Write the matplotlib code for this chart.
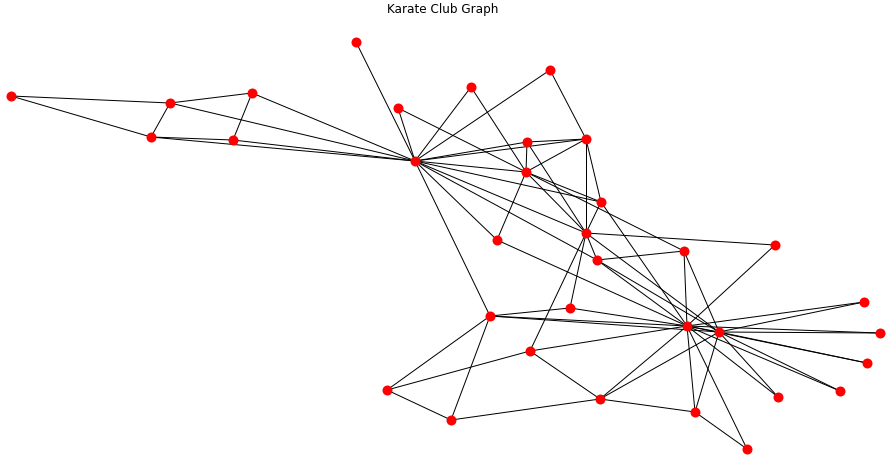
import matplotlib
matplotlib.use("Agg")
import matplotlib.pyplot as plt
from matplotlib.collections import LineCollection

# Node positions (pixel coordinates, y downward)
node_x = [415, 526, 586, 586, 233, 170, 151, 527, 597, 775,
          252, 356, 550, 601, 864, 880, 11, 398, 867, 497,
          840, 471, 778, 600, 387, 451, 747, 530, 570, 695,
          684, 490, 719, 687]
node_y = [161, 172, 233, 139, 140, 103, 137, 142, 260, 245,
          93, 42, 70, 202, 302, 333, 96, 108, 363, 240,
          391, 87, 397, 399, 390, 420, 449, 351, 308, 412,
          251, 316, 332, 326]

# Zachary karate club edges
edges = [(0, 1), (0, 2), (0, 3), (0, 4), (0, 5), (0, 6), (0, 7), (0, 8), (0, 10),
         (0, 11), (0, 12), (0, 13), (0, 17), (0, 19), (0, 21), (0, 31),
         (1, 2), (1, 3), (1, 7), (1, 13), (1, 17), (1, 19), (1, 21), (1, 30),
         (2, 3), (2, 7), (2, 8), (2, 9), (2, 13), (2, 27), (2, 28), (2, 32),
         (3, 7), (3, 12), (3, 13), (4, 6), (4, 10), (5, 6), (5, 10), (5, 16),
         (6, 16), (8, 30), (8, 32), (8, 33), (9, 33), (13, 33), (14, 32), (14, 33),
         (15, 32), (15, 33), (18, 32), (18, 33), (19, 33), (20, 32), (20, 33),
         (22, 32), (22, 33), (23, 25), (23, 27), (23, 29), (23, 32), (23, 33),
         (24, 25), (24, 27), (24, 31), (25, 31), (26, 29), (26, 33), (27, 33),
         (28, 31), (28, 33), (29, 32), (29, 33), (30, 32), (30, 33), (31, 32),
         (31, 33), (32, 33)]

title = "Karate Club Graph"

W, H, DPI = 886, 455, 72
fig = plt.figure(figsize=(W / DPI, H / DPI), dpi=DPI)
ax = fig.add_axes([0, 0, 1, 1])
ax.set_xlim(0, W)
ax.set_ylim(H, 0)
ax.axis("off")

segs = [[(node_x[a], node_y[a]), (node_x[b], node_y[b])] for a, b in edges]
ax.add_collection(LineCollection(segs, colors="k", linewidths=1.0, zorder=1))
ax.scatter(node_x, node_y, s=100, c="red", linewidths=0, zorder=2)

fig.text(0.5, 1 - 9 / H, title, ha="center", va="center", fontsize=12,
         family="DejaVu Sans")

fig.savefig("out.png", dpi=DPI)
